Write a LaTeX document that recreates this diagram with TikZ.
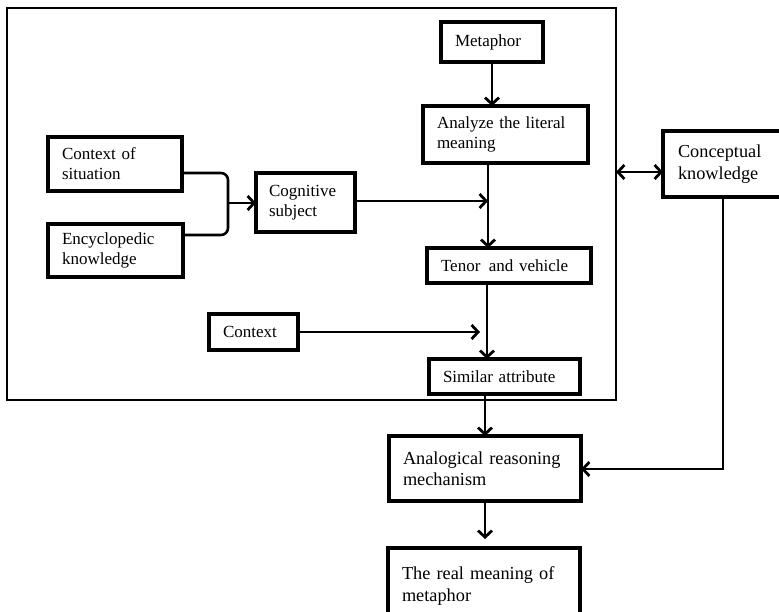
\documentclass[tikz,border=0pt]{standalone}
\usepackage{fontspec}
\setmainfont{Liberation Serif}[WordSpace=0.85]
\usetikzlibrary{arrows.meta}
\begin{document}
\begin{tikzpicture}[x=1pt,y=-1pt,
  box/.style={draw, line width=3.2pt, outer sep=0pt, anchor=north west, align=left,
    inner xsep=14pt, inner ysep=0pt, font=\fontsize{17}{20}\selectfont},
  bigbox/.style={box, font=\fontsize{18.3}{21.5}\selectfont},
  conn/.style={line width=2.6pt},
  tip/.tip={Straight Barb[length=6.5pt,width=14pt,line width=2.8pt]},
  arr/.style={conn, -tip},
  darr/.style={conn, tip-tip}
]
\useasboundingbox (0,0) rectangle (779,612);
\clip (0,0) rectangle (779,612);
% frame
\draw[line width=2.8pt] (7,8) rectangle (616,400);
% nodes
\node[box, minimum width=102pt, minimum height=40pt, text width=74pt] (meta) at (441,22) {Metaphor};
\node[box, minimum width=165pt, minimum height=57pt, text width=137pt] (analyze) at (423,106) {Analyze the literal\\meaning};
\node[box, minimum width=164pt, minimum height=35pt, text width=136pt, inner xsep=13pt] (tenor) at (427,248) {Tenor\, and vehicle};
\node[box, minimum width=151pt, minimum height=35pt, text width=123pt] (similar) at (429,359) {Similar attribute};
\node[box, minimum width=134pt, minimum height=54pt, text width=106pt, line width=3.8pt] (ctxsit) at (48,137) {Context of\\situation};
\node[box, minimum width=135pt, minimum height=53pt, text width=107pt, line width=3.8pt] (ency) at (48,224) {Encyclopedic\\knowledge};
\node[box, minimum width=99pt, minimum height=59pt, text width=73pt, inner xsep=13pt] (cog) at (256,173) {Cognitive\\subject};
\node[box, minimum width=89pt, minimum height=36pt, text width=61pt] (ctx) at (209,314) {Context};
\node[bigbox, minimum width=130pt, minimum height=66pt, text width=102pt, inner xsep=15pt] (concept) at (663,131) {Conceptual\\knowledge};
\node[bigbox, minimum width=192pt, minimum height=65pt, text width=164pt] (analog) at (389,436) {Analogical reasoning\\mechanism};
\node[bigbox, minimum width=192pt, minimum height=78pt, text width=164pt, text depth=0pt] (real) at (388,548) {\raisebox{6pt}{\parbox[b]{164pt}{The real meaning of\\metaphor}}};
% coordinates
\coordinate (spine) at (488,0);
\coordinate (bj) at (228,203);
\coordinate (frameR) at (616,172);
\coordinate (ck) at (723,469);
% connectors
\draw[arr] (meta.south) -- (meta.south |- analyze.north);
\draw[arr] (analyze.south -| spine) -- (tenor.north -| spine);
\draw[arr] (cog.east |- 0,201) -- (spine |- 0,201);
\draw[arr] (tenor.south -| 487,0) -- (similar.north -| 487,0);
\draw[arr, shorten >=7pt] (ctx.east) -- (ctx.east -| 487,0);
\draw[arr] (analog.north |- similar.south) -- (analog.north);
\draw[arr, shorten >=9pt] (analog.south) -- (analog.south |- real.north);
\draw[arr] (concept.south -| ck) -- (ck) -- (ck -| analog.east);
\draw[darr] (frameR) -- (frameR -| concept.west);
\draw[conn, rounded corners=7pt] (ctxsit.east |- 0,173) -- (bj |- 0,173) -- (bj |- 0,235) -- (ency.east |- 0,235);
\draw[arr] (bj) -- (bj -| cog.west);
\end{tikzpicture}
\end{document}
